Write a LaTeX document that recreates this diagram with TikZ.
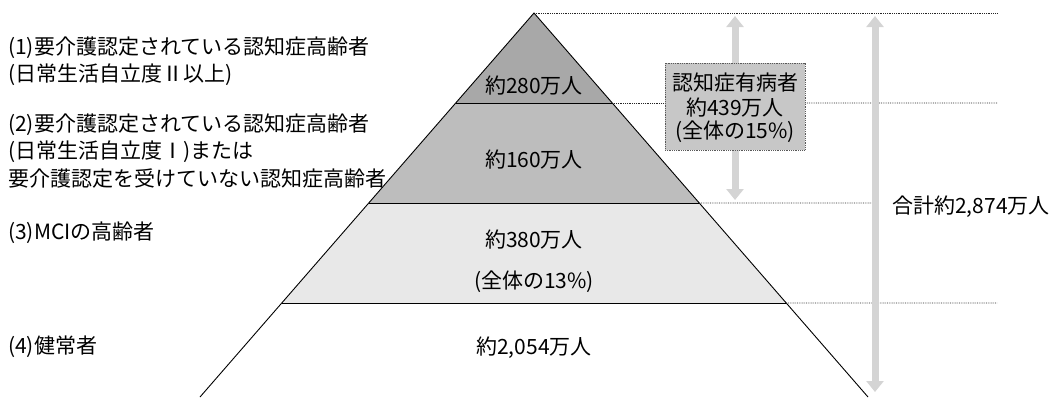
\documentclass[tikz,border=0pt]{standalone}
\usepackage{fontspec}
\setmainfont{Noto Sans CJK JP}
\usetikzlibrary{calc,arrows.meta}
\begin{document}
\begin{tikzpicture}[x=1pt,y=-1pt,
  txt/.style={inner sep=0pt,font=\fontsize{21}{24}\selectfont},
  lefttxt/.style={txt,anchor=west},
  guide/.style={densely dotted,line width=0.8pt,black!85},
  edge/.style={line width=0.9pt,black},
  dblarrow/.style={line width=7pt,draw=black!17,
    {Triangle[width=17pt,length=11pt]}-{Triangle[width=17pt,length=11pt]}},
  infobox/.style={draw=black!65,densely dotted,line width=0.8pt,fill=black!22,
    minimum width=140pt,minimum height=87pt,inner sep=0pt}]
\useasboundingbox (0,0) rectangle (1064,397);
% pyramid geometry
\coordinate (A) at (534,13);
\coordinate (BL) at (200,397);
\coordinate (BR) at (868,397);
\coordinate (L1) at ($(A)!0.2344!(BL)$);
\coordinate (R1) at ($(A)!0.2344!(BR)$);
\coordinate (L2) at ($(A)!0.4948!(BL)$);
\coordinate (R2) at ($(A)!0.4948!(BR)$);
\coordinate (L3) at ($(A)!0.7552!(BL)$);
\coordinate (R3) at ($(A)!0.7552!(BR)$);
% fills
\fill[black!34] (A) -- (R1) -- (L1) -- cycle;
\fill[black!26] (L1) -- (R1) -- (R2) -- (L2) -- cycle;
\fill[black!9] (L2) -- (R2) -- (R3) -- (L3) -- cycle;
% guide end points
\coordinate (G0) at (997,13);
\coordinate (G1) at (997,103);
\coordinate (G3) at (997,303);
\coordinate (T1) at (875,16);
\coordinate (T2) at (875,392);
\coordinate (S1) at (735,16);
\coordinate (S2) at (735,200);
\coordinate (K2) at (875,203);
% info box
\node[infobox] (box) at (735,106.5) {};
% dotted guides
\draw[guide] (A) -- (G0);
\draw[guide] (R1) -- (box.west |- R1);
\draw[guide] (box.east |- R1) -- (G1);
\draw[guide] (R2) -- (K2);
\draw[guide] (R3) -- (G3);
% arrows
\draw[dblarrow] (S1) -- (S2);
\draw[dblarrow] (T1) -- (T2);
\node[infobox] (box2) at (box) {};
% pyramid edges
\draw[edge] (BL) -- (A) -- (BR);
\draw[edge] (L1) -- (R1);
\draw[edge] (L2) -- (R2);
\draw[edge] (L3) -- (R3);
% box text
\node[txt] (b1) at (735,83) {認知症有病者};
\node[txt] (b2) at (735,108) {約439万人};
\node[txt] (b3) at (735,132) {(全体の15\%)};
% pyramid labels
\node[txt] (p1) at (534,86) {約280万人};
\node[txt] (p2) at (534,160) {約160万人};
\node[txt] (p3) at (534,240) {約380万人};
\node[txt] (p3b) at (534,282) {(全体の13\%)};
\node[txt] (p4) at (534,348) {約2,054万人};
% total
\node[lefttxt] (tot) at (892,207) {合計約2,874万人};
% left labels
\node[lefttxt] (l1) at (8,48) {(1)要介護認定されている認知症高齢者};
\node[lefttxt] (l1b) at (8,75) {(日常生活自立度Ⅱ以上)};
\node[lefttxt] (l2) at (8,125) {(2)要介護認定されている認知症高齢者};
\node[lefttxt] (l2b) at (8,152) {(日常生活自立度Ⅰ)または};
\node[lefttxt] (l2c) at (8,179) {要介護認定を受けていない認知症高齢者};
\node[lefttxt] (l3) at (8,233) {(3)MCIの高齢者};
\node[lefttxt] (l4) at (8,347) {(4)健常者};
\end{tikzpicture}
\end{document}
